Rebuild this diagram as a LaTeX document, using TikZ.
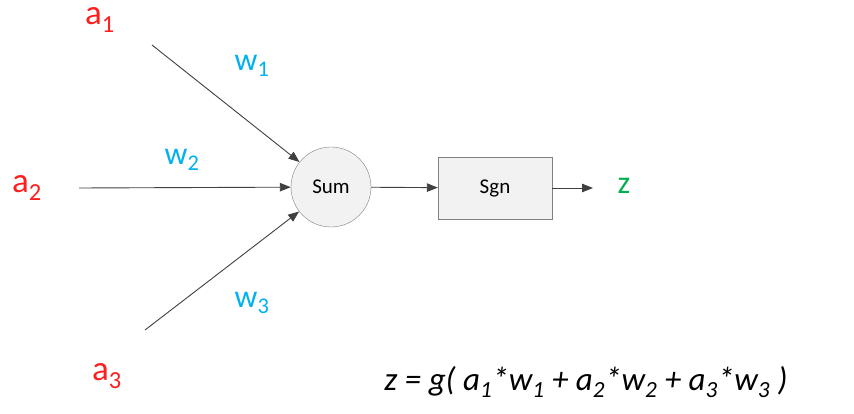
\documentclass[tikz,border=0pt]{standalone}
\usepackage{fontspec}
\setmainfont{Carlito}
\usetikzlibrary{arrows.meta,positioning}
\definecolor{inred}{RGB}{255,30,30}
\definecolor{wblue}{RGB}{0,176,240}
\definecolor{outgreen}{RGB}{0,176,80}
\definecolor{linegray}{RGB}{64,64,64}
\definecolor{boxgray}{RGB}{242,242,242}

\begin{document}
\begin{tikzpicture}[x=1pt, y=-1pt, >={Triangle[length=11pt,width=8.5pt]},
    conn/.style={->, draw=linegray, line width=0.9pt},
    inlabel/.style={text=inred, font=\fontsize{35}{38}\selectfont},
    wlabel/.style={text=wblue, font=\fontsize{32}{36}\selectfont}]
    \useasboundingbox (0,0) rectangle (854,414);

    % Summing unit and sign block
    \node[circle, draw=gray, fill=boxgray, minimum size=80pt, inner sep=0pt,
          font=\fontsize{21}{24}\selectfont] (sum) at (331,187) {Sum};
    \node[rectangle, draw=gray, fill=boxgray, minimum width=114pt, minimum height=62pt,
          font=\fontsize{21}{24}\selectfont] (sgn) at (495,188) {Sgn};
    \coordinate (out) at (593,188);
    \node[text=outgreen, font=\fontsize{32}{36}\selectfont] (z) at (624,186) {z};

    % Inputs
    \node[inlabel] (a1) at (100,20) {a\textsubscript{1}};
    \node[inlabel] (a2) at (27,188) {a\textsubscript{2}};
    \node[inlabel] (a3) at (107,376) {a\textsubscript{3}};
    \coordinate (in1) at (152,45);
    \coordinate (in2) at (79,188);
    \coordinate (in3) at (145,330);

    % Weights
    \node[wlabel] (w1) at (252,66) {w\textsubscript{1}};
    \node[wlabel] (w2) at (182,160) {w\textsubscript{2}};
    \node[wlabel] (w3) at (252,303) {w\textsubscript{3}};

    % Connections
    \draw[conn] (in1) -- (sum);
    \draw[conn] (in2) -- (sum);
    \draw[conn] (in3) -- (sum);
    \draw[conn] (sum) -- (sgn);
    \draw[conn] (sgn) -- (out);

    % Formula
    \node[font=\fontsize{33}{36}\selectfont\itshape] (formula) at (586,382)
        {z = g( a\textsubscript{1}*w\textsubscript{1} + a\textsubscript{2}*w\textsubscript{2} + a\textsubscript{3}*w\textsubscript{3} )};
\end{tikzpicture}
\end{document}
